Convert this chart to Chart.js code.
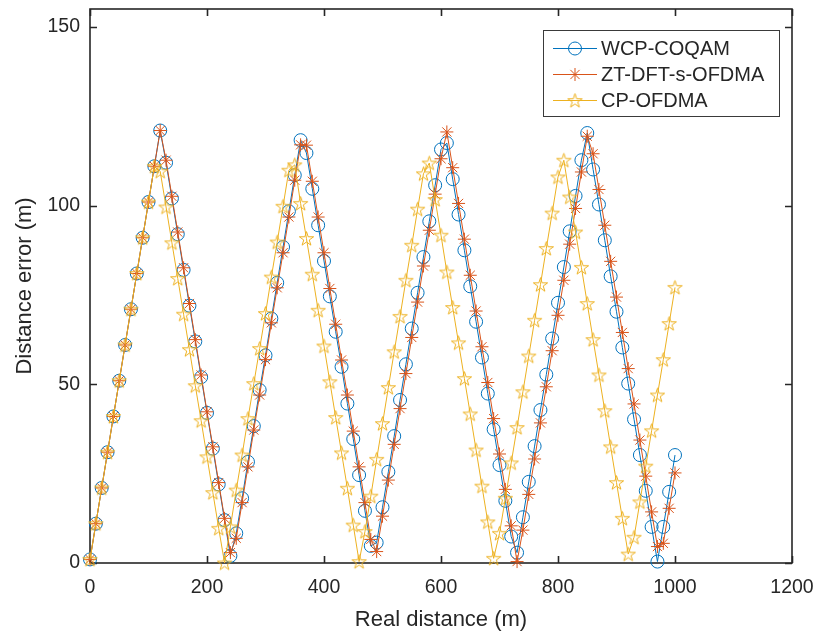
<!DOCTYPE html>
<html>
<head>
<meta charset="utf-8">
<script src="https://cdn.jsdelivr.net/npm/chart.js@4.4.1/dist/chart.umd.min.js"></script>
<style>
  html, body { margin: 0; padding: 0; background: #fff; }
  #wrap { width: 816px; height: 635px; }
</style>
</head>
<body>
<div id="wrap"><canvas id="c" width="816" height="635"></canvas></div>
<script>
// real distance (m)
const distances = [
  0, 10, 20, 30, 40, 50, 60, 70, 80, 90, 100, 110, 120, 130, 140, 150, 160, 170, 180, 190,
  200, 210, 220, 230, 240, 250, 260, 270, 280, 290, 300, 310, 320, 330, 340, 350, 360, 370, 380, 390,
  400, 410, 420, 430, 440, 450, 460, 470, 480, 490, 500, 510, 520, 530, 540, 550, 560, 570, 580, 590,
  600, 610, 620, 630, 640, 650, 660, 670, 680, 690, 700, 710, 720, 730, 740, 750, 760, 770, 780, 790,
  800, 810, 820, 830, 840, 850, 860, 870, 880, 890, 900, 910, 920, 930, 940, 950, 960, 970, 980, 990,
  1000
];

// distance error (m)
const wcpCoqam = [
  1, 11, 21, 31, 41, 51, 61, 71, 81, 91, 101, 111, 121,
  112, 102, 92, 82, 72, 62, 52, 42, 32, 22, 12, 2,
  8.3, 18.1, 28.3, 38.3, 48.4, 58.1, 68.4, 78.4, 88.4, 98.4, 108.5, 118.3,
  114.7, 104.7, 94.5, 84.5, 74.6, 64.7, 54.9, 44.6, 34.7, 24.6, 14.6, 4.8,
  5.7, 15.6, 25.5, 35.5, 45.6, 55.6, 65.6, 75.6, 85.6, 95.6, 105.7, 115.7,
  117.5, 107.4, 97.5, 87.5, 77.4, 67.5, 57.5, 47.4, 37.4, 27.4, 17.4, 7.4,
  2.9, 12.8, 22.7, 32.7, 42.8, 52.7, 62.8, 72.8, 82.8, 92.8, 102.7, 112.7,
  120.3, 110.1, 100.3, 90.3, 80.2, 70.3, 60.3, 50.2, 40.2, 30.2, 20.2, 10.1,
  0.4, 10.1, 19.9, 30.2
];

const ztDftSOfdma = [
  1, 11, 21, 31, 41, 51, 61, 71, 81, 91, 101, 111, 121,
  112.7, 102.6, 92.6, 82.6, 72.6, 62.5, 52.6, 42.3, 32.5, 22.5, 12.5, 2.9,
  6.9, 16.9, 26.9, 37.2, 47, 56.9, 67.2, 77, 86.8, 96.8, 107.1, 117,
  116.9, 106.8, 96.8, 86.8, 76.8, 66.8, 56.8, 47, 36.9, 26.9, 16.9, 6.6,
  3.2, 13.1, 23.2, 33.2, 43.2, 53, 63.1, 73, 83.1, 93.1, 103.2, 113.1,
  120.6, 110.6, 100.6, 90.6, 80.5, 70.5, 60.5, 50.5, 40.4, 30.5, 20.6, 10.4,
  0.4, 9.2, 19.2, 29.1, 39.2, 49.3, 59.4, 69.3, 79.1, 89.2, 99.2, 109.4,
  119.4, 114.5, 104.5, 94.5, 84.4, 74.4, 64.5, 54.4, 44.5, 34.4, 24.3, 14.3,
  4.6, 5.5, 15.3, 25.2
];

const cpOfdma = [
  1, 11, 21, 31, 41, 51, 61, 71, 81, 91, 101, 111,
  109.6, 99.6, 89.6, 79.6, 69.6, 59.7, 49.6, 39.8, 29.7, 19.7, 9.7, 0,
  10.1, 20.4, 30.2, 40.4, 50.2, 60, 69.8, 80, 89.8, 99.8, 109.9, 111.4,
  100.6, 90.8, 80.8, 70.7, 60.7, 50.7, 40.7, 30.8, 20.9, 10.6, 0.4,
  8.8, 18.7, 29, 39, 49.1, 59.1, 69, 79.1, 88.9, 99, 108.9, 111.9,
  101.7, 91.7, 81.4, 71.5, 61.6, 51.6, 41.7, 31.6, 21.5, 11.5, 1.3,
  8.3, 18.1, 28, 37.9, 47.9, 57.9, 67.9, 77.9, 88, 97.9, 108, 112.7,
  102.4, 92.6, 82.7, 72.6, 62.5, 52.6, 42.6, 32.5, 22.5, 12.5, 2.5,
  7.2, 17.1, 27.1, 37, 47, 56.9, 67, 77.1
];

const seriesNames = ['WCP-COQAM', 'ZT-DFT-s-OFDMA', 'CP-OFDMA'];
const seriesColors = ['#0072BD', '#D95319', '#EDB120'];
const xTicks = [0, 200, 400, 600, 800, 1000, 1200];
const yTicks = [0, 50, 100, 150];

const FONT = '"Liberation Sans", Arial, Helvetica, sans-serif';
const INK = '#262626';

// open pentagram marker (MATLAB 'p')
function pentagram(color, r) {
  const size = Math.ceil(r * 2 + 4);
  const cv = document.createElement('canvas');
  cv.width = size; cv.height = size;
  const g = cv.getContext('2d');
  const c = size / 2;
  const inner = r * 0.382;
  g.beginPath();
  for (let k = 0; k < 10; k++) {
    const rr = k % 2 === 0 ? r : inner;
    const a = -Math.PI / 2 + k * Math.PI / 5;
    const px = c + rr * Math.cos(a), py = c + 0.6 + rr * Math.sin(a);
    if (k === 0) g.moveTo(px, py); else g.lineTo(px, py);
  }
  g.closePath();
  g.strokeStyle = color;
  g.lineWidth = 1;
  g.stroke();
  return cv;
}

const starImg = pentagram(seriesColors[2], 7.5);
const markers = [
  { pointStyle: 'circle', radius: 6.5 },
  { pointStyle: 'star', radius: 6.5 },
  { pointStyle: starImg, radius: 7.5 }
];

function points(ys) {
  return distances.map((d, i) => ({ x: d, y: ys[i] }));
}

const frame = {
  id: 'frame',
  beforeDatasetsDraw(chart) {
    const { ctx, chartArea: a, scales: { x, y } } = chart;
    ctx.save();
    ctx.strokeStyle = INK;
    ctx.lineWidth = 1.6;
    ctx.strokeRect(a.left, a.top, a.right - a.left, a.bottom - a.top);
    const len = 7;
    ctx.beginPath();
    xTicks.forEach(v => {
      const px = Math.round(x.getPixelForValue(v)) + 0.5;
      ctx.moveTo(px, a.bottom); ctx.lineTo(px, a.bottom - len);
      ctx.moveTo(px, a.top); ctx.lineTo(px, a.top + len);
    });
    yTicks.forEach(v => {
      const py = Math.round(y.getPixelForValue(v)) + 0.5;
      ctx.moveTo(a.left, py); ctx.lineTo(a.left + len, py);
      ctx.moveTo(a.right, py); ctx.lineTo(a.right - len, py);
    });
    ctx.stroke();
    ctx.restore();
  }
};

const boxLegend = {
  id: 'boxLegend',
  afterDraw(chart) {
    const ctx = chart.ctx;
    ctx.save();
    ctx.fillStyle = '#fff';
    ctx.fillRect(543, 30, 237, 87);
    ctx.strokeStyle = '#3a3a3a';
    ctx.lineWidth = 1;
    ctx.strokeRect(543.5, 30.5, 236, 86);
    ctx.font = '20px ' + FONT;
    ctx.textBaseline = 'middle';
    seriesNames.forEach((name, i) => {
      const yy = 48.5 + i * 26;
      ctx.strokeStyle = seriesColors[i];
      ctx.fillStyle = 'rgba(0,0,0,0)';
      ctx.lineWidth = 1;
      ctx.beginPath();
      ctx.moveTo(553, yy); ctx.lineTo(597, yy);
      ctx.stroke();
      Chart.helpers.drawPoint(ctx, {
        pointStyle: markers[i].pointStyle, radius: markers[i].radius, borderWidth: 1, rotation: 0
      }, 575, yy);
      ctx.fillStyle = INK;
      ctx.fillText(name, 601, yy + 1);
    });
    ctx.restore();
  }
};

new Chart(document.getElementById('c'), {
  type: 'line',
  data: {
    datasets: [wcpCoqam, ztDftSOfdma, cpOfdma].map((ys, i) => ({
      label: seriesNames[i],
      data: points(ys),
      borderColor: seriesColors[i],
      borderWidth: 1,
      pointStyle: markers[i].pointStyle,
      pointRadius: markers[i].radius,
      pointBorderWidth: 1,
      pointBorderColor: seriesColors[i],
      pointBackgroundColor: 'rgba(0,0,0,0)',
      tension: 0,
      clip: 12,
      order: 3 - i
    }))
  },
  options: {
    responsive: false,
    animation: false,
    events: [],
    layout: { padding: { left: 0, right: 24, top: 9, bottom: 0 } },
    plugins: { legend: { display: false }, tooltip: { enabled: false } },
    scales: {
      x: {
        type: 'linear',
        min: 0, max: 1200,
        afterBuildTicks: s => { s.ticks = xTicks.map(v => ({ value: v })); },
        afterFit: s => { s.height = 72; s.paddingLeft = 0; s.paddingRight = 0; },
        grid: { display: false, drawTicks: false },
        border: { display: false },
        ticks: { color: INK, font: { family: FONT, size: 19.5 }, padding: 13, maxRotation: 0,
                 callback: v => String(v) },
        title: { display: true, text: 'Real distance (m)', color: INK,
                 font: { family: FONT, size: 22 }, padding: { top: 0, bottom: 2 } }
      },
      y: {
        type: 'linear',
        min: 0, max: 155,
        afterBuildTicks: s => { s.ticks = yTicks.map(v => ({ value: v })); },
        afterFit: s => { s.width = 90; s.paddingTop = 0; s.paddingBottom = 0; },
        grid: { display: false, drawTicks: false },
        border: { display: false },
        ticks: { color: INK, font: { family: FONT, size: 19.5 }, padding: 10,
                 callback: v => String(v) },
        title: { display: true, text: 'Distance error (m)', color: INK,
                 font: { family: FONT, size: 22 }, padding: { top: 12, bottom: 0 } }
      }
    }
  },
  plugins: [frame, boxLegend]
});
</script>
</body>
</html>
